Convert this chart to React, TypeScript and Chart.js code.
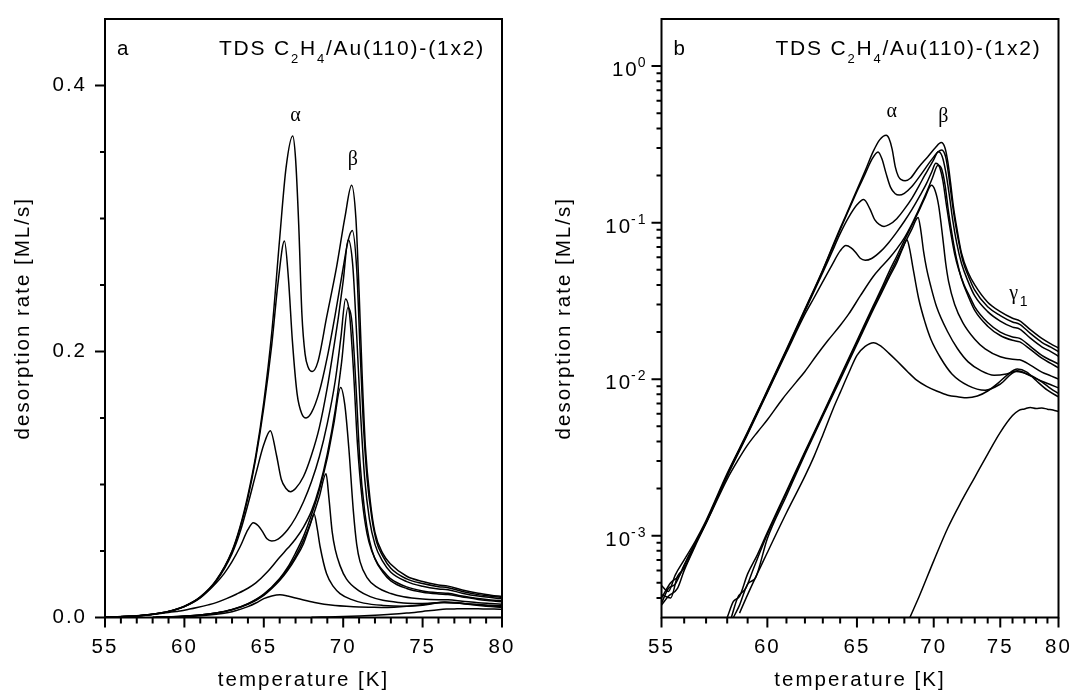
import React, { useEffect, useRef } from "react";
import { Chart, registerables } from "chart.js";

Chart.register(...registerables);

type Pt = [number, number];

// TDS traces of C2H4 on Au(110)-(1x2): [temperature (K), desorption rate (ML/s)],
// ordered from the highest to the lowest initial coverage.
const trace1: Pt[] = [
  [55, 4.8e-4], [55.3, 4.4e-4], [55.6, 5.6e-4], [56, 7.0e-4], [56.5, 9.2e-4], [57, 1.25e-3], [58, 2.5e-3],
  [59, 4.6e-3], [60, 8.5e-3], [61, 0.0155], [62, 0.028], [63, 0.05], [63.5, 0.068], [64, 0.092], [64.5, 0.122],
  [65, 0.162], [65.5, 0.214], [66, 0.285], [66.4, 0.338], [66.82, 0.362], [67, 0.345], [67.2, 0.295],
  [67.4, 0.228], [67.6, 0.198], [67.8, 0.188], [68.05, 0.185], [68.4, 0.192], [68.96, 0.226], [69.59, 0.264],
  [70.11, 0.301], [70.53, 0.325], [70.8, 0.3], [71, 0.245], [71.2, 0.18], [71.4, 0.128], [71.7, 0.088],
  [72, 0.064], [72.5, 0.048], [73, 0.04], [74, 0.031], [75, 0.027], [76, 0.0245], [76.6, 0.0236],
  [77.5, 0.0207], [78.5, 0.0182], [79.3, 0.0168], [80, 0.0158],
];
const trace2: Pt[] = [
  [55, 3.7e-4], [55.3, 4.6e-4], [55.6, 4.9e-4], [56, 6.5e-4], [56.5, 8.9e-4], [57, 1.22e-3], [58, 2.45e-3],
  [59, 4.55e-3], [60, 8.4e-3], [61, 0.0153], [62, 0.0277], [63, 0.0495], [63.5, 0.067], [64, 0.09], [64.5, 0.12],
  [65, 0.158], [65.5, 0.205], [65.9, 0.252], [66.3, 0.283], [66.55, 0.255], [66.8, 0.208], [67.1, 0.168],
  [67.4, 0.153], [67.66, 0.15], [68, 0.154], [68.5, 0.17], [69, 0.196], [69.5, 0.228], [70, 0.263],
  [70.3, 0.283], [70.57, 0.291], [70.85, 0.262], [71.05, 0.205], [71.25, 0.15], [71.5, 0.105], [71.8, 0.075],
  [72.1, 0.057], [72.5, 0.046], [73, 0.037], [74, 0.029], [75, 0.0255], [76, 0.0232], [76.6, 0.0224],
  [77.5, 0.0196], [78.5, 0.0172], [79.3, 0.016], [80, 0.015],
];
const trace3: Pt[] = [
  [55, 4.2e-4], [55.4, 4.0e-4], [55.7, 5.5e-4], [56, 6.2e-4], [56.5, 8.8e-4], [57, 1.22e-3], [58, 2.44e-3],
  [59, 4.5e-3], [60, 8.3e-3], [61, 0.0151], [62, 0.0272], [63, 0.048], [63.5, 0.064], [64, 0.085], [64.5, 0.108],
  [65, 0.13], [65.41, 0.1405], [65.8, 0.122], [66.1, 0.104], [66.4, 0.097], [66.68, 0.0946], [67, 0.097],
  [67.5, 0.106], [68, 0.122], [68.5, 0.143], [69, 0.173], [69.38, 0.201], [69.7, 0.226], [70, 0.253],
  [70.32, 0.284], [70.6, 0.265], [70.85, 0.212], [71.1, 0.152], [71.35, 0.105], [71.65, 0.074], [72, 0.055],
  [72.5, 0.042], [73, 0.034], [74, 0.027], [75, 0.0235], [76, 0.0215], [76.6, 0.0209], [77.5, 0.0183],
  [78.5, 0.0161], [79.3, 0.015], [80, 0.014],
];
const trace4: Pt[] = [
  [55, 3.6e-4], [55.3, 4.1e-4], [55.7, 4.6e-4], [56, 6.0e-4], [56.5, 8.6e-4], [57, 1.2e-3], [58, 2.4e-3],
  [59, 4.45e-3], [60, 8.2e-3], [61, 0.0148], [62, 0.026], [62.5, 0.033], [63, 0.042], [63.5, 0.053],
  [64, 0.066], [64.34, 0.0713], [64.65, 0.069], [64.9, 0.065], [65.2, 0.0592], [65.5, 0.0575], [65.9, 0.059],
  [66.5, 0.066], [67, 0.075], [67.5, 0.087], [68, 0.102], [68.5, 0.121], [69, 0.146], [69.5, 0.178],
  [69.85, 0.21], [70.15, 0.2395], [70.4, 0.228], [70.65, 0.185], [70.9, 0.13], [71.2, 0.088], [71.5, 0.063],
  [71.8, 0.05], [72.2, 0.04], [72.6, 0.034], [73, 0.029], [74, 0.023], [75, 0.02], [76, 0.0186], [76.6, 0.0182],
  [77.5, 0.0162], [78.5, 0.0142], [79.3, 0.0132], [80, 0.0125],
];
const trace5: Pt[] = [
  [55, 4.0e-4], [55.4, 5.0e-4], [55.8, 5.6e-4], [56.2, 7.4e-4], [57, 1.2e-3], [58, 2.3e-3], [58.5, 3.0e-3],
  [59, 3.8e-3], [59.5, 4.6e-3], [60, 5.5e-3], [60.8, 7.5e-3], [61.5, 9.5e-3], [62, 0.0112], [62.65, 0.0142],
  [63.3, 0.0177], [64, 0.022], [64.5, 0.026], [65.2, 0.034], [66, 0.0453], [66.5, 0.052], [67, 0.059],
  [67.5, 0.068], [68, 0.08], [68.5, 0.098], [69, 0.123], [69.5, 0.156], [69.9, 0.192], [70.3, 0.233],
  [70.55, 0.222], [70.8, 0.175], [71.05, 0.118], [71.35, 0.08], [71.65, 0.058], [72, 0.044], [72.5, 0.034],
  [73, 0.0275], [74, 0.0218], [75, 0.019], [76, 0.0177], [76.6, 0.0173], [77.5, 0.0155], [78.5, 0.0136],
  [79.3, 0.0126], [80, 0.0118],
];
const trace6: Pt[] = [
  [58, 3.0e-4], [58.3, 3.8e-4], [58.6, 4.1e-4], [59, 5.7e-4], [59.5, 7.6e-4], [60, 1.05e-3], [61, 1.92e-3],
  [62, 3.45e-3], [63, 6.0e-3], [64, 0.0104], [65, 0.0176], [66, 0.0294], [66.5, 0.0376], [67, 0.0485],
  [67.5, 0.061], [68, 0.077], [68.5, 0.096], [69, 0.12], [69.4, 0.145], [69.84, 0.173], [70.1, 0.16],
  [70.35, 0.128], [70.64, 0.08], [70.85, 0.055], [71.06, 0.042], [71.5, 0.03], [72.1, 0.023], [73, 0.018],
  [73.8, 0.0156], [75, 0.0139], [76, 0.0134], [76.6, 0.0133], [77.5, 0.0123], [78.5, 0.0111], [79.3, 0.0105],
  [80, 0.01],
];
const trace7: Pt[] = [
  [58.2, 3.0e-4], [58.5, 4.0e-4], [58.9, 4.6e-4], [59.3, 6.2e-4], [60, 1.02e-3], [61, 1.88e-3], [62, 3.38e-3],
  [63, 5.9e-3], [64, 0.0102], [65, 0.0172], [66, 0.0287], [66.5, 0.0365], [67, 0.046], [67.5, 0.058],
  [68, 0.073], [68.5, 0.091], [68.92, 0.108], [69.1, 0.09], [69.3, 0.065], [69.5, 0.051], [69.8, 0.039],
  [70.2, 0.029], [71, 0.02], [71.7, 0.0157], [72.5, 0.0129], [73.5, 0.0113], [74.5, 0.0106], [75.5, 0.0108],
  [76.4, 0.0113], [77.5, 0.0105], [78.5, 0.0097], [79.3, 0.0092], [80, 0.0088],
];
const trace8: Pt[] = [
  [58.3, 3.0e-4], [58.6, 3.6e-4], [59, 4.9e-4], [59.4, 5.4e-4], [60, 9.6e-4], [61, 1.8e-3], [62, 3.3e-3],
  [63, 5.8e-3], [64, 0.0099], [65, 0.0167], [66, 0.0278], [66.5, 0.0352], [67, 0.0445], [67.5, 0.0555],
  [67.9, 0.069], [68.17, 0.0777], [68.35, 0.068], [68.55, 0.053], [68.95, 0.033], [69.4, 0.023], [69.8, 0.018],
  [70.5, 0.0136], [71.3, 0.0108], [72.5, 0.0091], [73.8, 0.0085], [75, 0.0093], [76.3, 0.0112], [77.5, 0.0106],
  [78.5, 0.0096], [79.3, 0.0087], [80, 0.0081],
];
const trace9: Pt[] = [
  [58.6, 3.2e-4], [59, 4.2e-4], [60, 7.8e-4], [61, 1.4e-3], [62, 2.4e-3], [62.5, 3.2e-3], [63, 4.4e-3],
  [63.6, 6.5e-3], [64, 8.2e-3], [64.5, 0.0109], [65, 0.0142], [65.5, 0.0162], [66.02, 0.0171], [66.5, 0.0162],
  [67, 0.0146], [67.5, 0.0131], [68.2, 0.0112], [68.8, 0.0099], [69.5, 0.009], [70.2, 0.0084], [71, 0.0079],
  [71.8, 0.0077], [72.4, 0.0076], [73.2, 0.0078], [74, 0.0084], [74.8, 0.0094], [75.6, 0.0107], [76.4, 0.0116],
  [77.2, 0.0111], [78, 0.0098], [79, 0.0085], [80, 0.0077],
];
const trace10: Pt[] = [
  [68, 2.5e-4], [68.62, 3.4e-4], [69, 4.1e-4], [70, 6.9e-4], [71, 1.12e-3], [72, 1.66e-3], [73, 2.36e-3],
  [74, 3.32e-3], [75, 4.57e-3], [76, 5.85e-3], [76.5, 6.3e-3], [77, 6.45e-3], [77.5, 6.6e-3], [78, 6.5e-3],
  [78.5, 6.55e-3], [79, 6.43e-3], [79.5, 6.35e-3], [80, 6.2e-3],
];

const traces: Pt[][] = [trace1, trace2, trace3, trace4, trace5, trace6, trace7, trace8, trace9, trace10];

// Axis ticks
const tempTicks = [55, 56, 57, 58, 59, 60, 61, 62, 63, 64, 65, 66, 67, 68, 69, 70, 71, 72, 73, 74, 75, 76, 77, 78, 79, 80];
const tempLabels = [55, 60, 65, 70, 75, 80];
const rateTicks = [0, 0.05, 0.1, 0.15, 0.2, 0.25, 0.3, 0.35, 0.4];
const rateLabels = [0, 0.2, 0.4];
const logDecades = [0, -1, -2, -3];
const logMantissas = [1, 2, 3, 4, 5, 6, 7, 8, 9];

// Peak names placed in data coordinates
const linearPeakNotes = [
  { text: "α", t: 67.0, rate: 0.377 },
  { text: "β", t: 70.6, rate: 0.344 },
];
const logPeakNotes = [
  { text: "α", t: 67.17, rate: 0.508 },
  { text: "β", t: 70.68, rate: 0.473 },
];
const gammaNote = { t: 76.1, rate: 0.0349 };

const SANS = '"Liberation Sans", Arial, Helvetica, sans-serif';
const SERIF = '"Liberation Serif", "Times New Roman", serif';
const TICK_SIZE = 20.5;
const SPACING = "2px";

const titleSegs = [
  { text: "TDS C", sub: false },
  { text: "2", sub: true },
  { text: "H", sub: false },
  { text: "4", sub: true },
  { text: "/Au(110)-(1x2)", sub: false },
];

function drawRich(ctx: CanvasRenderingContext2D, xRight: number, baseline: number, size: number) {
  const subSize = 13;
  const widths = titleSegs.map((s) => {
    ctx.font = `${s.sub ? subSize : size}px ${SANS}`;
    return ctx.measureText(s.text).width;
  });
  let x = xRight - widths.reduce((a, b) => a + b, 0);
  titleSegs.forEach((s, i) => {
    ctx.font = `${s.sub ? subSize : size}px ${SANS}`;
    ctx.fillText(s.text, x, s.sub ? baseline + 8 : baseline);
    x += widths[i];
  });
}

function framePlugin(majorX: (v: number) => boolean, majorY: (v: number) => boolean) {
  return {
    id: "frameTicks",
    beforeDraw(chart: any) {
      (chart.ctx as any).letterSpacing = SPACING;
    },
    afterDraw(chart: any) {
      const ctx = chart.ctx as CanvasRenderingContext2D;
      const a = chart.chartArea;
      const xs = chart.scales.x;
      const ys = chart.scales.y;
      ctx.save();
      ctx.strokeStyle = "#000";
      ctx.lineWidth = 2;
      ctx.beginPath();
      for (const t of xs.ticks) {
        const px = xs.getPixelForValue(t.value);
        const len = majorX(t.value) ? 10 : 6;
        ctx.moveTo(px, a.bottom);
        ctx.lineTo(px, a.bottom + len);
      }
      for (const t of ys.ticks) {
        const py = ys.getPixelForValue(t.value);
        if (py < a.top + 1 || py > a.bottom + 1) continue;
        const len = majorY(t.value) ? 10 : 5;
        ctx.moveTo(a.left, py);
        ctx.lineTo(a.left - len, py);
      }
      ctx.stroke();
      ctx.strokeRect(a.left, a.top, a.right - a.left, a.bottom - a.top);
      ctx.restore();
    },
  };
}

function notesPlugin(letter: string, log: boolean) {
  return {
    id: "notes",
    afterDraw(chart: any) {
      const ctx = chart.ctx as CanvasRenderingContext2D;
      const a = chart.chartArea;
      const xs = chart.scales.x;
      const ys = chart.scales.y;
      const xOf = (t: number) => xs.getPixelForValue(log ? 1000 / t : t);
      ctx.save();
      ctx.fillStyle = "#000";
      (ctx as any).letterSpacing = "1.8px";
      ctx.textAlign = "left";
      ctx.textBaseline = "alphabetic";
      ctx.font = `${TICK_SIZE}px ${SANS}`;
      ctx.fillText(letter, a.left + 12, a.top + 35.5);
      drawRich(ctx, a.right - 17, a.top + 35.5, 21);

      (ctx as any).letterSpacing = "0px";
      ctx.font = `20px ${SERIF}`;
      ctx.textAlign = "center";
      ctx.textBaseline = "middle";
      for (const n of log ? logPeakNotes : linearPeakNotes) {
        ctx.fillText(n.text, xOf(n.t), ys.getPixelForValue(n.rate));
      }
      if (log) {
        const gx = xOf(gammaNote.t);
        const gy = ys.getPixelForValue(gammaNote.rate);
        ctx.fillText("γ", gx, gy);
        ctx.font = `14px ${SANS}`;
        ctx.textAlign = "left";
        ctx.fillText("1", gx + 6, gy + 8);

        // decade labels with raised exponents
        ctx.textBaseline = "alphabetic";
        (ctx as any).letterSpacing = SPACING;
        for (const d of logDecades) {
          const py = ys.getPixelForValue(Math.pow(10, d));
          const exp = String(d);
          ctx.font = `14px ${SANS}`;
          const we = ctx.measureText(exp).width;
          ctx.font = `${TICK_SIZE}px ${SANS}`;
          const wb = ctx.measureText("10").width;
          const x0 = a.left - 13 - we - wb;
          ctx.fillText("10", x0, py + 10);
          ctx.font = `14px ${SANS}`;
          ctx.fillText(exp, x0 + wb - 1, py + 1);
        }
      }
      ctx.restore();
    },
  };
}

const tickFont = { family: SANS, size: TICK_SIZE };

function datasetsFor(log: boolean) {
  return traces.map((tr) => ({
    data: tr.map(([t, r]) => ({ x: log ? 1000 / t : t, y: r })),
    borderColor: "#000",
    borderWidth: 1.5,
    pointRadius: 0,
    fill: false,
    cubicInterpolationMode: "monotone" as const,
  }));
}

export default function App() {
  const leftRef = useRef<HTMLCanvasElement>(null);
  const rightRef = useRef<HTMLCanvasElement>(null);

  useEffect(() => {
    const common = {
      responsive: false,
      animation: false as const,
      devicePixelRatio: 1,
      events: [] as any[],
      plugins: { legend: { display: false }, tooltip: { enabled: false } },
    };

    const left = new Chart(leftRef.current!, {
      type: "line",
      data: { datasets: datasetsFor(false) as any },
      options: {
        ...common,
        layout: { padding: { left: 0, right: 38, top: 19, bottom: 0 } },
        scales: {
          x: {
            type: "linear",
            min: 55,
            max: 80,
            afterBuildTicks: (s: any) => {
              s.ticks = tempTicks.map((v) => ({ value: v }));
            },
            ticks: {
              autoSkip: false,
              maxRotation: 0,
              padding: 17.5,
              font: tickFont,
              color: "#000",
              callback: (v: any) => (tempLabels.includes(Number(v)) ? String(v) : ""),
            },
            grid: { display: false, drawTicks: false },
            border: { display: false },
            title: { display: true, text: "temperature [K]", font: tickFont, color: "#000", padding: { top: 0, bottom: 0 } },
            afterFit: (s: any) => {
              s.height = 75.5;
              s.paddingLeft = 0;
              s.paddingRight = 0;
            },
          },
          y: {
            type: "linear",
            min: 0,
            max: 0.45,
            afterBuildTicks: (s: any) => {
              s.ticks = rateTicks.map((v) => ({ value: v }));
            },
            ticks: {
              autoSkip: false,
              padding: 18,
              font: tickFont,
              color: "#000",
              callback: (v: any) => (rateLabels.includes(Number(v)) ? Number(v).toFixed(1) : ""),
            },
            grid: { display: false, drawTicks: false },
            border: { display: false },
            title: { display: true, text: "desorption rate [ML/s]", font: tickFont, color: "#000", padding: { top: 10.7, bottom: 0 } },
            afterFit: (s: any) => {
              s.width = 105;
              s.paddingTop = 0;
              s.paddingBottom = 0;
            },
          },
        },
      } as any,
      plugins: [
        framePlugin((v) => tempLabels.includes(v), (v) => rateLabels.includes(v)),
        notesPlugin("a", false),
      ],
    });

    const right = new Chart(rightRef.current!, {
      type: "line",
      data: { datasets: datasetsFor(true) as any },
      options: {
        ...common,
        layout: { padding: { left: 0, right: 14.5, top: 19, bottom: 0 } },
        scales: {
          x: {
            type: "linear",
            reverse: true,
            min: 1000 / 80,
            max: 1000 / 55,
            afterBuildTicks: (s: any) => {
              s.ticks = tempTicks.map((t) => ({ value: 1000 / t }));
            },
            ticks: {
              autoSkip: false,
              maxRotation: 0,
              padding: 17.5,
              font: tickFont,
              color: "#000",
              callback: (v: any) => {
                const t = Math.round(1000 / Number(v));
                return tempLabels.includes(t) ? String(t) : "";
              },
            },
            grid: { display: false, drawTicks: false },
            border: { display: false },
            title: { display: true, text: "temperature [K]", font: tickFont, color: "#000", padding: { top: 0, bottom: 0 } },
            afterFit: (s: any) => {
              s.height = 75.5;
              s.paddingLeft = 0;
              s.paddingRight = 0;
            },
          },
          y: {
            type: "logarithmic",
            min: 3.4e-4,
            max: 2.0,
            afterBuildTicks: (s: any) => {
              const vals: { value: number }[] = [];
              for (const d of [-4, -3, -2, -1, 0]) {
                for (const m of logMantissas) {
                  const v = m * Math.pow(10, d);
                  if (v >= 3.4e-4 && v < 2.0) vals.push({ value: v });
                }
              }
              s.ticks = vals;
            },
            ticks: { autoSkip: false, font: tickFont, color: "#000", callback: () => "" },
            grid: { display: false, drawTicks: false },
            border: { display: false },
            title: { display: true, text: "desorption rate [ML/s]", font: tickFont, color: "#000", padding: { top: 12.3, bottom: 0 } },
            afterFit: (s: any) => {
              s.width = 121.5;
              s.paddingTop = 0;
              s.paddingBottom = 0;
            },
          },
        },
      } as any,
      plugins: [
        framePlugin(
          (v) => tempLabels.includes(Math.round(1000 / v)),
          (v) => logDecades.some((d) => Math.abs(Math.log10(v) - d) < 1e-6)
        ),
        notesPlugin("b", true),
      ],
    });

    return () => {
      left.destroy();
      right.destroy();
    };
  }, []);

  return (
    <div style={{ position: "fixed", left: 0, top: 0, width: 1073, height: 693, background: "#fff" }}>
      <canvas
        ref={leftRef}
        width={540}
        height={693}
        style={{ position: "absolute", left: 0, top: 0, width: 540, height: 693 }}
      />
      <canvas
        ref={rightRef}
        width={533}
        height={693}
        style={{ position: "absolute", left: 540, top: 0, width: 533, height: 693 }}
      />
    </div>
  );
}
